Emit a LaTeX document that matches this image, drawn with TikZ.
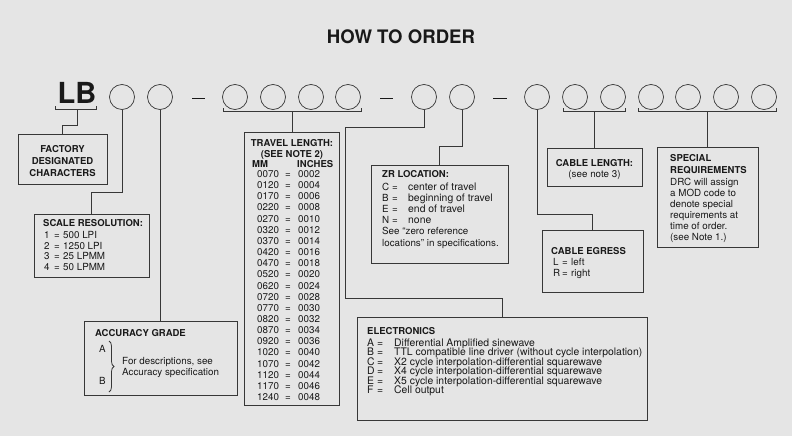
\documentclass[tikz,border=0pt]{standalone}
\usepackage{fontspec}
\setmainfont{TeX Gyre Heros}
\usetikzlibrary{decorations.pathreplacing}
\definecolor{bgc}{RGB}{229,229,229}
\definecolor{linec}{RGB}{55,55,55}
\definecolor{textc}{RGB}{25,25,25}
\begin{document}
\begin{tikzpicture}[x=1pt,y=-1pt,
  bx/.style={draw=linec, line width=0.9pt, rectangle, inner sep=0pt},
  circ/.style={draw=linec, line width=0.7pt, circle, minimum size=25pt, inner sep=0pt},
  conn/.style={draw=linec, line width=0.8pt},
  dashmark/.style={draw=textc, line width=1.8pt},
  hd/.style={font=\bfseries\fontsize{9.5}{11}\selectfont, text=textc, inner sep=0pt, anchor=base west},
  hdc/.style={hd, anchor=base},
  tx/.style={font=\fontsize{9.8}{11}\selectfont, text=textc, inner sep=0pt, anchor=base west},
  txc/.style={tx, anchor=base},
  txe/.style={tx, font=\fontsize{10.4}{11}\selectfont},
]
\fill[bgc] (0,0) rectangle (792,436);
\useasboundingbox (0,0) rectangle (792,436);

% title and LB
\node[font=\bfseries\fontsize{18.6}{20}\selectfont, text=textc, inner sep=0pt, anchor=base] (title) at (401,44) {HOW TO ORDER};
\node[font=\bfseries\fontsize{29}{30}\selectfont, text=textc, inner sep=0pt, anchor=base] (lb) at (77,103) {LB};

% circles
\foreach \x [count=\i] in {122,160,235,273,311,348,424,462,537,575,613,651,688,726,764}
  \node[circ] (c\i) at (\x,97) {};

% dashes
\draw[dashmark] (192,98.5) -- (205,98.5);
\draw[dashmark] (380,98.5) -- (393,98.5);
\draw[dashmark] (493,98.5) -- (507,98.5);

% boxes
\node[bx, minimum width=89pt,  minimum height=50pt]  (factory)  at (62.5,159) {};
\node[bx, minimum width=115pt, minimum height=63pt]  (scale)    at (91.5,245.5) {};
\node[bx, minimum width=153pt, minimum height=74pt]  (accuracy) at (160.5,358) {};
\node[bx, minimum width=95pt,  minimum height=273pt] (travel)   at (291.5,268.5) {};
\node[bx, minimum width=137pt, minimum height=98pt]  (zr)       at (439.5,214) {};
\node[bx, minimum width=290pt, minimum height=103pt] (elec)     at (502,368.5) {};
\node[bx, minimum width=101pt, minimum height=62pt]  (egress)   at (592.5,261) {};
\node[bx, minimum width=95pt,  minimum height=38pt]  (cablelen) at (594.5,167) {};
\node[bx, minimum width=101pt, minimum height=100pt] (special)  at (707.5,197) {};

% brackets
\draw[conn] (55,106) -- (55,109) -- (96,109) -- (96,106);
\coordinate (lbb) at (77,109);
\draw[conn] (223,108) -- (223,111) -- (361,111) -- (361,108);
\coordinate (trb) at (292,111);
\draw[conn] (563,108) -- (563,111.5) -- (625,111.5) -- (625,108);
\coordinate (clb) at (594,111.5);
\draw[conn] (638,108) -- (638,111.5) -- (776,111.5) -- (776,108);
\coordinate (spb) at (707,111.5);

% connectors
\draw[conn] (lbb) -- ++(0,16) -| (factory.north);
\draw[conn] (c1.south) -- ++(0,82.5) -| (scale.north);
\draw[conn] (c2.south) -- (c2.south |- accuracy.north);
\draw[conn] (trb) -- (trb |- travel.north);
\draw[conn] (c7.south) -- ++(0,17.5) -- ++(-79,0) -- ++(0,171) -| (elec.north);
\draw[conn] (c8.south) -- ++(0,36.5) -| (zr.north);
\draw[conn] (c9.south) -- ++(0,104.5) -| (egress.north);
\draw[conn] (clb) -- (clb |- cablelen.north);
\draw[conn] (spb) -- (spb |- special.north);

% factory text
\node[hdc] (f1) at (62.5,152.5) {FACTORY};
\node[hdc] (f2) at (62.5,164.5) {DESIGNATED};
\node[hdc] (f3) at (62.5,176) {CHARACTERS};

% scale resolution
\node[hd] (sh) at (43,226.5) {SCALE RESOLUTION:};
\foreach \n/\v [count=\i from 0] in {1/500 LPI, 2/1250 LPI, 3/25 LPMM, 4/50 LPMM} {
  \node[tx] (sn\i) at (44,238.5+\i*10.7) {\n};
  \node[tx] (se\i) at (54,238.5+\i*10.7) {=};
  \node[tx] (sv\i) at (63,238.5+\i*10.7) {\v};
}

% accuracy grade
\node[hd] (ah) at (95,336.5) {ACCURACY GRADE};
\node[tx] (aa) at (99,352.5) {A};
\node[tx] (ab) at (99,384.5) {B};
\draw[linec, line width=0.8pt, decorate, decoration={brace, amplitude=5pt}] (109,341) -- (109,392);
\node[tx] (ad1) at (122,364.5) {For descriptions, see};
\node[tx] (ad2) at (122,375.5) {Accuracy specification};

% travel length
\node[hdc] (th1) at (292,146.5) {TRAVEL LENGTH:};
\node[hdc] (th2) at (292,157) {(SEE NOTE 2)};
\node[hd] (tmm) at (252,167.5) {MM};
\node[hd] (tin) at (297,167.5) {INCHES};
\foreach \m/\n [count=\i from 0] in {0070/0002,0120/0004,0170/0006,0220/0008,0270/0010,0320/0012,0370/0014,0420/0016,0470/0018,0520/0020,0620/0024,0720/0028,0770/0030,0820/0032,0870/0034,0920/0036,1020/0040,1070/0042,1120/0044,1170/0046,1240/0048} {
  \node[tx] (tm\i) at (257,177.5+\i*11.15) {\m};
  \node[tx] (te\i) at (285,177.5+\i*11.15) {=};
  \node[tx] (tv\i) at (298,177.5+\i*11.15) {\n};
}

% ZR location
\node[hd] (zh) at (382,177.5) {ZR LOCATION:};
\foreach \l/\v [count=\i from 0] in {C/center of travel, B/beginning of travel, E/end of travel, N/none} {
  \node[tx] (zl\i) at (382,190.5+\i*11) {\l};
  \node[tx] (ze\i) at (392,190.5+\i*11) {=};
  \node[txe] (zv\i) at (408,190.5+\i*11) {\v};
}
\node[tx] (zs1) at (382,234.5) {See ``zero reference};
\node[tx] (zs2) at (382,246) {locations'' in specifications.};

% electronics
\node[hd] (eh) at (367,334.5) {ELECTRONICS};
\foreach \l/\v [count=\i from 0] in {A/Differential Amplified sinewave, B/TTL compatible line driver (without cycle interpolation), C/X2 cycle interpolation-differential squarewave, D/X4 cycle interpolation-differential squarewave, E/X5 cycle interpolation-differential squarewave, F/Cell output} {
  \node[txe] (el\i) at (367,346.5+\i*9.4) {\l};
  \node[txe] (ee\i) at (377,346.5+\i*9.4) {=};
  \node[txe] (ev\i) at (394,346.5+\i*9.4) {\v};
}

% cable egress
\node[hd] (gh) at (551,254.5) {CABLE EGRESS};
\node[tx] (gl1) at (553,265.5) {L};
\node[tx] (ge1) at (562,265.5) {=};
\node[tx] (gv1) at (571,265.5) {left};
\node[tx] (gl2) at (553,276.5) {R};
\node[tx] (ge2) at (562,276.5) {=};
\node[tx] (gv2) at (571,276.5) {right};

% cable length
\node[hdc] (ch) at (594.5,166.5) {CABLE LENGTH:};
\node[txc] (cn) at (594.5,177.5) {(see note 3)};

% special requirements
\node[hd] (p1) at (670,161.5) {SPECIAL};
\node[hd] (p2) at (670,173.5) {REQUIREMENTS};
\foreach \t [count=\i from 0] in {DRC will assign, a MOD code to, denote special, requirements at, time of order., (see Note 1.)}
  \node[tx] (pt\i) at (670,185.5+\i*11) {\t};
\end{tikzpicture}
\end{document}
